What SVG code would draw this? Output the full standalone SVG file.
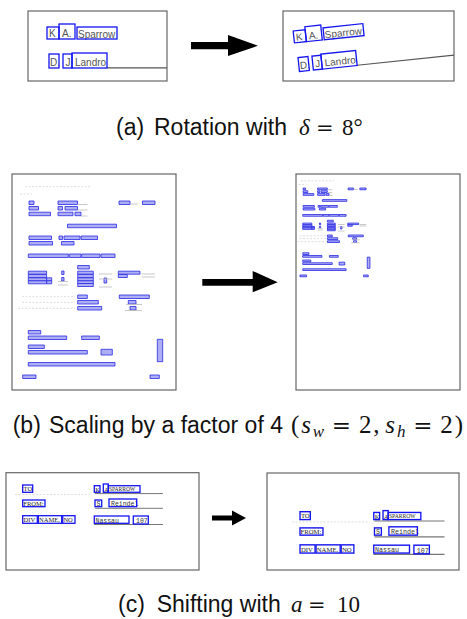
<svg xmlns="http://www.w3.org/2000/svg" xmlns:xlink="http://www.w3.org/1999/xlink" width="467" height="619" viewBox="0 0 467 619">
  <style>
    .frame { fill: #fff; stroke: #666; stroke-width: 1.2; }
    .bx { fill: none; stroke: #1414f0; stroke-width: 1.3; }
    .pb { fill: #aeaef2; stroke: #2a2ae6; stroke-width: 0.8; vector-effect: non-scaling-stroke; }
    .gl { stroke: #bbb; stroke-width: 0.8; vector-effect: non-scaling-stroke; }
    .fd { stroke: #ddd; stroke-width: 1; stroke-dasharray: 2 1.5; vector-effect: non-scaling-stroke; }
    .ul { stroke: #555; stroke-width: 1.2; }
    .ulc { stroke: #777; stroke-width: 1; }
    .ta { font-family: "Liberation Sans", Arial, sans-serif; font-size: 10px; fill: #555; }
    .tc { font-family: "Liberation Serif", "Times New Roman", serif; font-size: 6.5px; fill: #222; }
    .tcs { font-family: "Liberation Serif", "Times New Roman", serif; font-size: 5.5px; fill: #222; }
    .tm { font-family: "Liberation Mono", "Courier New", monospace; font-size: 6.5px; fill: #333; }
    .cap { font-family: "Liberation Sans", Arial, sans-serif; font-size: 23px; fill: #111; }
    .mi { font-family: "Liberation Serif", "Times New Roman", serif; font-style: italic; }
    .mr { font-family: "Liberation Serif", "Times New Roman", serif; }
    .eq { font-family: "DejaVu Serif", "Liberation Serif", serif; font-size: 21px; }
    .sub { font-size: 16px; }
    .mb { font-size: 25px; }
    .mb .eq { font-size: 23px; }
    .mb .sub { font-size: 17px; }
    .arrow { fill: #000; }
  </style>

  <defs>
    <!-- card with two name lines and OCR word boxes -->
    <g id="cardA">
      <line class="ul" x1="107" y1="67.8" x2="330" y2="67.8"/>
      <text class="ta" x="49" y="37">K</text>
      <text class="ta" x="62" y="37">A.</text>
      <text class="ta" x="78" y="37.5">Sparrow</text>
      <text class="ta" x="50" y="65.5">D.</text>
      <text class="ta" x="65.5" y="65.5">J</text>
      <text class="ta" x="75" y="65.5">Landro</text>
      <rect class="bx" x="47" y="27" width="12" height="12"/>
      <rect class="bx" x="59" y="24" width="16" height="15"/>
      <rect class="bx" x="77" y="27" width="40" height="12"/>
      <rect class="bx" x="49" y="54" width="10" height="14"/>
      <rect class="bx" x="63" y="54" width="9" height="14"/>
      <rect class="bx" x="72" y="53" width="35" height="15"/>
    </g>
    <clipPath id="clipA1"><rect x="28" y="11" width="139" height="70"/></clipPath>
    <clipPath id="clipA2"><rect x="283" y="11" width="171" height="70"/></clipPath>

    <!-- full form page with detected fields -->
    <g id="formPage">
      <line class="fd" x1="25" y1="186.7" x2="90" y2="186.7"/>
      <line class="fd" x1="20" y1="194" x2="32" y2="194"/>
      <rect class="pb" x="29" y="201" width="5" height="3.5"/>
      <rect class="pb" x="58" y="201" width="19.5" height="3.5"/>
      <line class="gl" x1="77.5" y1="204.5" x2="87.5" y2="204.5"/>
      <rect class="pb" x="119" y="201" width="11" height="3.5"/>
      <line class="gl" x1="130" y1="204" x2="138" y2="204"/>
      <rect class="pb" x="142.5" y="201" width="12.5" height="3.5"/>
      <rect class="pb" x="29" y="206.5" width="9.5" height="3.5"/>
      <rect class="pb" x="58" y="206.5" width="4.5" height="3.5"/>
      <rect class="pb" x="65" y="206.5" width="12.5" height="3.5"/>
      <line class="gl" x1="77.5" y1="210" x2="87.5" y2="210"/>
      <rect class="pb" x="29" y="212.2" width="21.5" height="3.5"/>
      <rect class="pb" x="58" y="212.2" width="15" height="3.5"/>
      <rect class="pb" x="75" y="212.2" width="6" height="3.5"/>
      <line class="gl" x1="81" y1="216" x2="87.5" y2="216"/>
      <rect class="pb" x="67.5" y="224.2" width="49" height="3.5"/>
      <rect class="pb" x="29" y="236" width="22.5" height="3.5"/>
      <rect class="pb" x="59" y="236" width="3.5" height="3.5"/>
      <rect class="pb" x="64" y="236" width="16" height="3.5"/>
      <rect class="pb" x="81" y="236" width="16.5" height="3.5"/>
      <rect class="pb" x="29" y="241.5" width="23.5" height="3.5"/>
      <rect class="pb" x="61.5" y="241.5" width="12.5" height="3.5"/>
      <rect class="pb" x="28.3" y="254" width="40" height="3.5"/>
      <rect class="pb" x="69.3" y="254" width="11.7" height="3.5"/>
      <rect class="pb" x="81.7" y="254" width="18.3" height="3.5"/>
      <rect class="pb" x="101" y="254" width="14" height="3.5"/>
      <rect class="pb" x="77.7" y="265.5" width="11.6" height="3.5"/>
      <rect class="pb" x="28.3" y="271.2" width="18.3" height="3"/>
      <rect class="pb" x="28.3" y="274.5" width="18.3" height="3"/>
      <rect class="pb" x="28.3" y="277.8" width="18.3" height="3"/>
      <rect class="pb" x="46.7" y="277.8" width="5" height="3"/>
      <rect class="pb" x="28.3" y="280.8" width="18.3" height="3"/>
      <rect class="pb" x="46.7" y="280.8" width="5" height="3"/>
      <rect class="pb" x="61.7" y="271" width="2.3" height="3.5"/>
      <rect class="pb" x="61.7" y="277.5" width="2.3" height="3.5"/>
      <line class="gl" x1="58" y1="281.5" x2="68" y2="281.5"/>
      <line class="gl" x1="58" y1="285" x2="68" y2="285"/>
      <rect class="pb" x="77.7" y="271.2" width="15.6" height="3"/>
      <rect class="pb" x="77.7" y="274.5" width="15.6" height="3"/>
      <rect class="pb" x="77.7" y="277.8" width="15.6" height="3"/>
      <rect class="pb" x="77.7" y="280.8" width="15.6" height="3"/>
      <rect class="pb" x="77.7" y="283.5" width="15.6" height="3"/>
      <rect class="pb" x="104" y="278" width="2.7" height="5"/>
      <line class="gl" x1="99" y1="274" x2="112" y2="274"/>
      <line class="gl" x1="99" y1="279" x2="112" y2="279"/>
      <line class="gl" x1="99" y1="287" x2="112" y2="287"/>
      <rect class="pb" x="118.3" y="271.2" width="21.7" height="3"/>
      <rect class="pb" x="118.3" y="274.5" width="9" height="3"/>
      <line class="gl" x1="141.7" y1="274" x2="155" y2="274"/>
      <line class="gl" x1="141.7" y1="277" x2="155" y2="277"/>
      <line class="fd" x1="22" y1="296.7" x2="75" y2="296.7"/>
      <line class="fd" x1="22" y1="302.3" x2="75" y2="302.3"/>
      <line class="fd" x1="18" y1="308.3" x2="75" y2="308.3"/>
      <rect class="pb" x="77.7" y="295" width="9.6" height="3.5"/>
      <rect class="pb" x="119.3" y="295" width="30" height="3.5"/>
      <rect class="pb" x="77.7" y="300.5" width="20.6" height="3.5"/>
      <rect class="pb" x="128.3" y="300.5" width="7.7" height="3.5"/>
      <line class="gl" x1="126" y1="304.5" x2="142" y2="304.5"/>
      <rect class="pb" x="77.7" y="306.5" width="24" height="3.5"/>
      <rect class="pb" x="130" y="306.5" width="6" height="3.5"/>
      <line class="gl" x1="125" y1="310.5" x2="142" y2="310.5"/>
      <rect class="pb" x="28.3" y="330.5" width="12.4" height="3.5"/>
      <rect class="pb" x="28.3" y="336" width="38.4" height="3.5"/>
      <rect class="pb" x="81.7" y="336" width="17.6" height="3.5"/>
      <rect class="pb" x="28.3" y="345" width="16" height="3.5"/>
      <rect class="pb" x="28.3" y="350.5" width="59" height="3.5"/>
      <rect class="pb" x="101" y="349.3" width="11.3" height="5.7"/>
      <rect class="pb" x="157.3" y="339.3" width="5.4" height="22.4"/>
      <rect class="pb" x="28.3" y="362.5" width="86.7" height="3.5"/>
      <rect class="pb" x="22.7" y="375" width="13.3" height="3.5"/>
      <rect class="pb" x="150" y="375" width="9.3" height="3.5"/>
    </g>

    <!-- memo header with TO / FROM / DIV fields -->
    <g id="memoC">
      <line class="fd" x1="15" y1="494.5" x2="90" y2="494.5"/>
      <line class="ulc" x1="95" y1="493.6" x2="163" y2="493.6"/>
      <line class="ulc" x1="95" y1="508.3" x2="163" y2="508.3"/>
      <line class="ulc" x1="94" y1="524.5" x2="163" y2="524.5"/>
      <text class="tc" x="23.6" y="491.3">TO</text>
      <text class="tc" x="95.3" y="491.5">K</text>
      <text class="tc" x="104" y="491.5">A</text>
      <text class="tcs" x="109" y="491.3">SPARROW</text>
      <text class="tc" x="23.3" y="506">FROM:</text>
      <text class="tm" x="96.5" y="506">S</text>
      <text class="tm" x="111" y="505.8">Reindel</text>
      <text class="tc" x="23.6" y="522.3">DIV</text>
      <text class="tc" x="39" y="522.3">NAME,</text>
      <text class="tc" x="63.4" y="522.3">NO</text>
      <text class="tm" x="95.5" y="522.5">Nassau</text>
      <text class="tm" x="136" y="522.8">107</text>
      <rect class="bx" x="22.7" y="485" width="10" height="7.3"/>
      <rect class="bx" x="94.3" y="485.7" width="5.7" height="6.6"/>
      <rect class="bx" x="103.3" y="484" width="5" height="8.3"/>
      <rect class="bx" x="108.3" y="485.7" width="31.7" height="6.6"/>
      <rect class="bx" x="22.7" y="500" width="22.3" height="6.7"/>
      <rect class="bx" x="95" y="500" width="6.7" height="6.7"/>
      <rect class="bx" x="109" y="499" width="27.7" height="7.7"/>
      <rect class="bx" x="22.7" y="515.7" width="14.6" height="7.6"/>
      <rect class="bx" x="38.3" y="515.7" width="23.4" height="7.6"/>
      <rect class="bx" x="62.7" y="515.7" width="12.3" height="7.6"/>
      <rect class="bx" x="94.3" y="516" width="34.7" height="7.3"/>
      <rect class="bx" x="133.3" y="516" width="15" height="8"/>
    </g>
  </defs>

  <!-- (a) rotation -->
  <g id="panel-a-original">
    <rect class="frame" x="28" y="11" width="139" height="70"/>
    <use xlink:href="#cardA" clip-path="url(#clipA1)"/>
  </g>
  <g id="panel-a-rotated">
    <rect class="frame" x="283" y="11" width="171" height="70"/>
    <g clip-path="url(#clipA2)">
      <use xlink:href="#cardA" transform="translate(248,2.5) rotate(-6,60,45)"/>
    </g>
  </g>

  <!-- (b) scaling -->
  <g id="panel-b-original">
    <rect class="frame" x="12" y="174" width="164" height="216"/>
    <use xlink:href="#formPage"/>
  </g>
  <g id="panel-b-scaled">
    <rect class="frame" x="296" y="174" width="164" height="216"/>
    <use xlink:href="#formPage" transform="translate(288.6,87.5) scale(0.5)"/>
  </g>

  <!-- (c) shifting -->
  <g id="panel-c-original">
    <rect class="frame" x="6" y="472.7" width="193" height="97.3"/>
    <use xlink:href="#memoC"/>
  </g>
  <g id="panel-c-shifted">
    <rect class="frame" x="267" y="473" width="192" height="97"/>
    <use xlink:href="#memoC" transform="translate(300,511.7) scale(1.03,1.08) translate(-22.7,-485)"/>
  </g>

  <!-- transform arrows -->
  <g id="connectors">
    <polygon class="arrow" points="191,42 228,42 228,35 258,45.7 228,56 228,49.3 191,49.3"/>
    <polygon class="arrow" points="202.3,279 252.7,279 252.7,271 277.7,282.3 252.7,292.3 252.7,285.7 202.3,285.7"/>
    <polygon class="arrow" points="212,515.5 232,515.5 232,510.5 246,518 232,525.5 232,520.5 212,520.5"/>
  </g>

  <!-- captions -->
  <g id="captions">
    <text class="cap" y="135"><tspan x="116">(a)</tspan><tspan x="154">Rotation with</tspan><tspan class="mi" x="299">δ</tspan><tspan class="eq" x="316">=</tspan><tspan class="mr" x="342">8°</tspan></text>
    <text class="cap" y="433"><tspan x="12.7">(b)</tspan><tspan x="49">Scaling by a factor of 4</tspan></text>
    <text class="cap mb" x="291" y="433" textLength="172" lengthAdjust="spacing"><tspan class="mr">(</tspan><tspan class="mi">s</tspan><tspan class="mi sub" dy="3.5">w</tspan><tspan class="eq" dx="6" dy="-3.5">=</tspan><tspan class="mr" dx="6">2,</tspan><tspan class="mi" dx="4">s</tspan><tspan class="mi sub" dy="3.5">h</tspan><tspan class="eq" dx="6" dy="-3.5">=</tspan><tspan class="mr" dx="6">2)</tspan></text>
    <text class="cap" y="612"><tspan x="118">(c)</tspan><tspan x="156.7">Shifting with</tspan><tspan class="mi" x="291">a</tspan><tspan class="eq" x="308">=</tspan><tspan class="mr" x="337">10</tspan></text>
  </g>
</svg>
